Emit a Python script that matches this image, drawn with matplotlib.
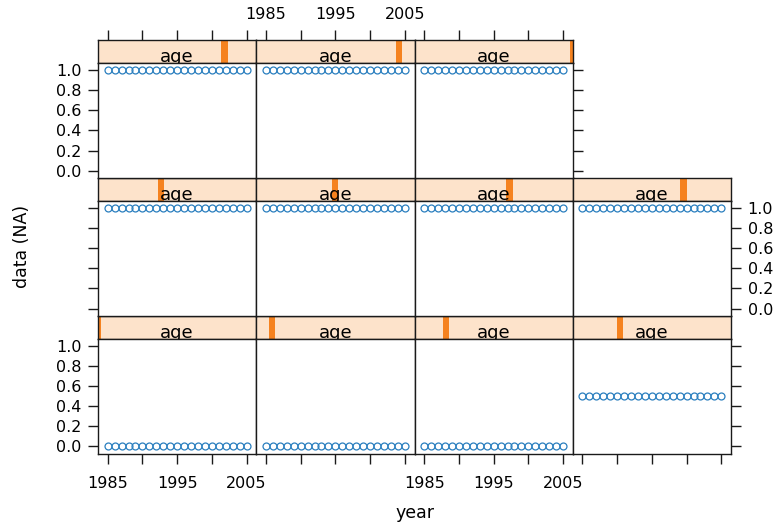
import numpy as np
import matplotlib
matplotlib.use("Agg")
import matplotlib.pyplot as plt

plt.rcParams['font.family'] = ['DejaVu Sans']

# one point per year in every panel
years = [1985, 1986, 1987, 1988, 1989, 1990, 1991, 1992, 1993, 1994, 1995,
         1996, 1997, 1998, 1999, 2000, 2001, 2002, 2003, 2004, 2005]
# age level shown in each strip (panel order: bottom-left first, row by row)
age_levels = [0, 1, 2, 3, 4, 5, 6, 7, 8, 9, 10]
panel_values = [0.0, 0.0, 0.0, 0.5, 1.0, 1.0, 1.0, 1.0, 1.0, 1.0, 1.0]

x_ticks = [1985, 1990, 1995, 2000, 2005]
x_ticklabels = ['1985', '', '1995', '', '2005']
y_ticks = [0.0, 0.2, 0.4, 0.6, 0.8, 1.0]
y_ticklabels = ['0.0', '0.2', '0.4', '0.6', '0.8', '1.0']

W, H = 782, 526
fig = plt.figure(figsize=(W / 100, H / 100), dpi=100)

def box(x0, y0, x1, y1):
    return [x0 / W, 1 - y1 / H, (x1 - x0) / W, (y1 - y0) / H]

left, right, top, bottom = 98, 731, 40, 453.5
ncol, nrow = 4, 3
cw = (right - left) / ncol
rh = (bottom - top) / nrow
strip_h = 23
xlim = (1983.6, 2006.4)
ylim = (-0.07, 1.07)

sym_col = '#2a7fbf'
strip_bg = '#fde3cb'
strip_bar = '#f5821f'
edge = '#1a1a1a'
tick_kw = dict(direction='out', length=7, width=1.0, color=edge, labelsize=11.5)

nlev = len(age_levels)
for i, (lev, val) in enumerate(zip(age_levels, panel_values)):
    col = i % ncol
    row = nrow - 1 - i // ncol   # 0 = top row
    x0 = left + col * cw
    x1 = x0 + cw
    y0 = top + row * rh
    last_in_row = (col == ncol - 1) or (i == len(panel_values) - 1)

    # strip: shares the year scale so the top axis can sit above it
    sax = fig.add_axes(box(x0, y0, x1, y0 + strip_h))
    sax.set_xlim(*xlim)
    sax.set_ylim(0, 1)
    sax.set_facecolor(strip_bg)
    sax.set_yticks([])
    pos = xlim[0] + lev / (nlev - 1) * (xlim[1] - xlim[0])
    sax.axvspan(pos - 0.45, pos + 0.45, color=strip_bar, lw=0)
    sax.text(0.5, 0.05, 'age', ha='center', va='baseline', fontsize=13,
             transform=sax.transAxes, clip_on=True)
    for s in sax.spines.values():
        s.set_color(edge)
        s.set_linewidth(1.0)
    sax.set_xticks(x_ticks)
    sax.set_xticklabels(x_ticklabels)
    if row == 0:
        sax.tick_params(axis='x', pad=6, bottom=False, labelbottom=False,
                        top=True, labeltop=(col % 2 == 1), **tick_kw)
    else:
        sax.tick_params(axis='x', bottom=False, labelbottom=False,
                        top=False, labeltop=False)

    # panel
    ax = fig.add_axes(box(x0, y0 + strip_h, x1, y0 + rh))
    ax.plot(years, np.full(len(years), val), 'o', mfc='none', mec=sym_col,
            ms=5.0, mew=0.9)
    ax.set_xlim(*xlim)
    ax.set_ylim(*ylim)
    for s in ax.spines.values():
        s.set_color(edge)
        s.set_linewidth(1.0)

    ax.set_xticks(x_ticks)
    ax.set_xticklabels(x_ticklabels)
    ax.set_yticks(y_ticks)
    ax.set_yticklabels(y_ticklabels)

    ax.tick_params(axis='x', pad=9, top=False, labeltop=False,
                   bottom=(row == nrow - 1),
                   labelbottom=(row == nrow - 1 and col % 2 == 0), **tick_kw)
    ax.tick_params(axis='y', pad=5,
                   left=(col == 0), labelleft=(col == 0 and row != 1),
                   right=last_in_row, labelright=(last_in_row and row == 1),
                   **tick_kw)

fig.text((left + right) / 2 / W, 1 - 513 / H, 'year', ha='center', va='center',
         fontsize=12.5)
fig.text(22 / W, 1 - (top + bottom) / 2 / H, 'data (NA)', ha='center',
         va='center', rotation=90, fontsize=12.5)

fig.savefig('out.png', dpi=100, facecolor='white')
